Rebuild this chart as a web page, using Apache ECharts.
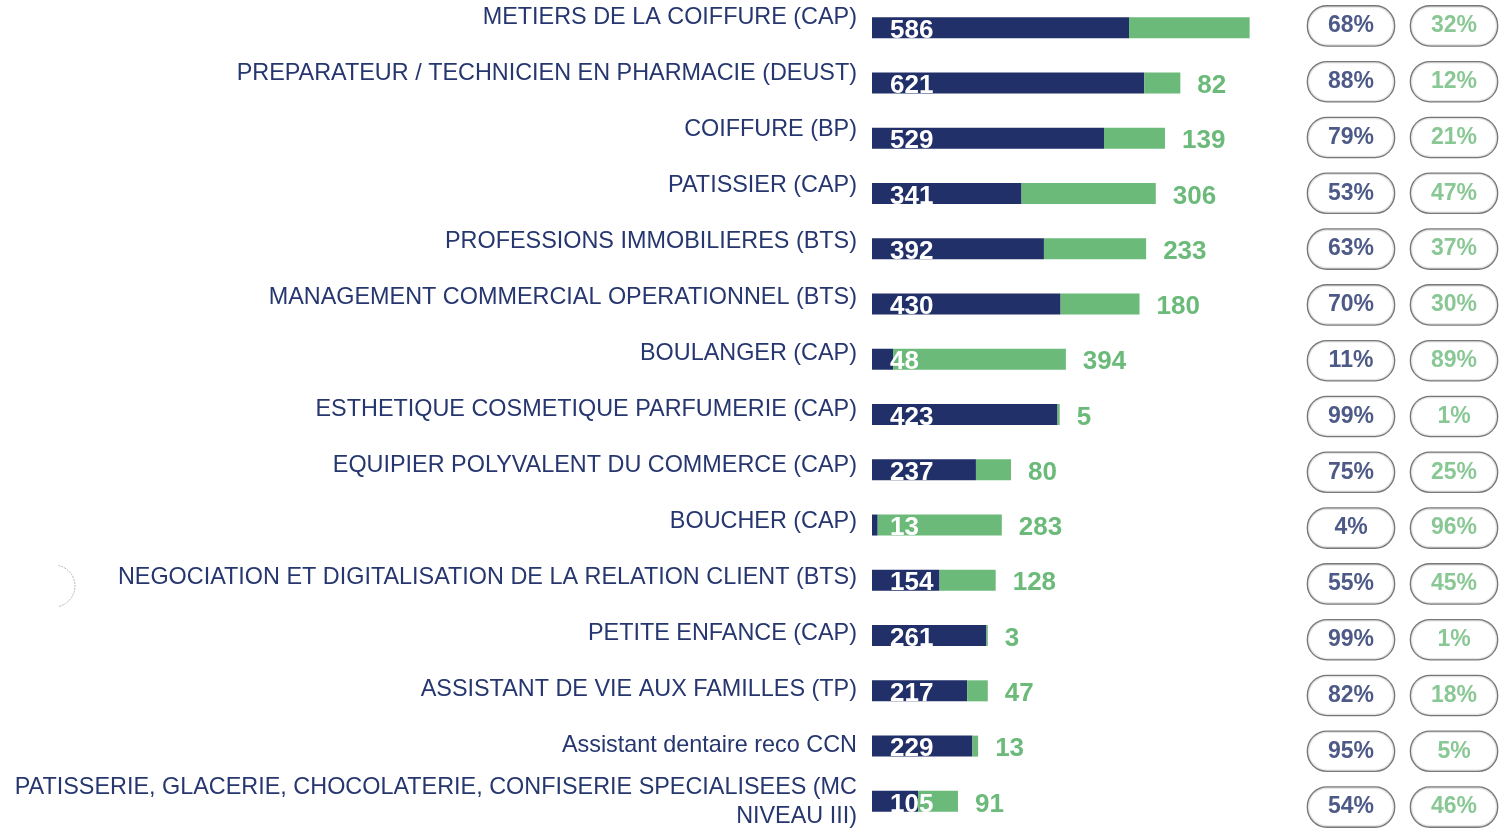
<!DOCTYPE html>
<html>
<head>
<meta charset="utf-8">
<script src="https://cdn.jsdelivr.net/npm/echarts@6/dist/echarts.min.js"></script>
<style>
  html, body { margin: 0; padding: 0; background: #fff; }
  #chart { width: 1501px; height: 830px; }
</style>
</head>
<body>
<div id="chart"></div>
<script>
// ------------------------------------------------------------
// Data
// ------------------------------------------------------------

const formations = [
  "METIERS DE LA COIFFURE (CAP)",
  "PREPARATEUR / TECHNICIEN EN PHARMACIE (DEUST)",
  "COIFFURE (BP)",
  "PATISSIER (CAP)",
  "PROFESSIONS IMMOBILIERES (BTS)",
  "MANAGEMENT COMMERCIAL OPERATIONNEL (BTS)",
  "BOULANGER (CAP)",
  "ESTHETIQUE COSMETIQUE PARFUMERIE (CAP)",
  "EQUIPIER POLYVALENT DU COMMERCE (CAP)",
  "BOUCHER (CAP)",
  "NEGOCIATION ET DIGITALISATION DE LA RELATION CLIENT (BTS)",
  "PETITE ENFANCE (CAP)",
  "ASSISTANT DE VIE AUX FAMILLES (TP)",
  "Assistant dentaire reco CCN",
  "PATISSERIE, GLACERIE, CHOCOLATERIE, CONFISERIE SPECIALISEES (MC\nNIVEAU III)",
];

const navyValues = [586, 621, 529, 341, 392, 430, 48, 423, 237, 13, 154, 261, 217, 229, 105];
const greenValues = [275, 82, 139, 306, 233, 180, 394, 5, 80, 283, 128, 3, 47, 13, 91];

const navyPct = [68, 88, 79, 53, 63, 70, 11, 99, 75, 4, 55, 99, 82, 95, 54];
const greenPct = [32, 12, 21, 47, 37, 30, 89, 1, 25, 96, 45, 1, 18, 5, 46];

// green value label not shown on these rows
const hiddenGreenLabels = [0];

// ------------------------------------------------------------
// Styles
// ------------------------------------------------------------

const NAVY = "#213068";
const GREEN = "#6bba7a";
const LABEL = "#26366f";
const FONT = "'Liberation Sans', Arial, sans-serif";

const pillStyle = {
  width: 86,
  borderRadius: 19,
  borderColor: "#555555",
  borderWidth: 1.3,
  backgroundColor: "#fff",
  fontFamily: FONT,
  fontWeight: "bold",
  fontSize: 23,
  align: "center",
};

const valueLabel = {
  show: true,
  offset: [0, 3],
  fontFamily: FONT,
  fontWeight: "bold",
  fontSize: 26,
};

// ------------------------------------------------------------
// Chart
// ------------------------------------------------------------

const chart = echarts.init(document.getElementById("chart"));

chart.setOption({
  animation: false,
  grid: [
    // bars
    { left: 872, top: 0, width: 438.6, height: 829, outerBoundsMode: "none" },
    // pills
    { left: 1300, top: -2, width: 204, height: 837, outerBoundsMode: "none" },
    // category labels (spaced a bit wider than the bars)
    { left: 872, top: -10, width: 10, height: 840, outerBoundsMode: "none" },
  ],
  xAxis: [
    { type: "value", gridIndex: 0, min: 0, max: 1000, show: false },
    { type: "value", gridIndex: 1, min: 0, max: 2, show: false },
    { type: "value", gridIndex: 2, min: 0, max: 1, show: false },
  ],
  yAxis: [
    { type: "category", gridIndex: 0, inverse: true, data: formations, show: false },
    { type: "category", gridIndex: 1, inverse: true, data: formations, show: false },
    {
      type: "category",
      gridIndex: 2,
      inverse: true,
      data: formations,
      axisLine: { show: false },
      axisTick: { show: false },
      axisLabel: {
        margin: 15,
        color: LABEL,
        fontSize: 23.4,
        lineHeight: 29,
        fontFamily: FONT,
      },
    },
  ],
  series: [
    {
      type: "bar",
      stack: "total",
      xAxisIndex: 0,
      yAxisIndex: 0,
      barWidth: 21,
      data: navyValues,
      itemStyle: { color: NAVY },
      label: {
        ...valueLabel,
        position: "insideLeft",
        distance: 18,
        color: "#fff",
      },
    },
    {
      type: "bar",
      stack: "total",
      xAxisIndex: 0,
      yAxisIndex: 0,
      barWidth: 21,
      data: greenValues.map((v, i) =>
        hiddenGreenLabels.includes(i) ? { value: v, label: { show: false } } : v
      ),
      itemStyle: { color: GREEN },
      label: {
        ...valueLabel,
        position: "right",
        distance: 17,
        color: GREEN,
      },
    },
    {
      type: "scatter",
      xAxisIndex: 1,
      yAxisIndex: 1,
      symbol: "rect",
      symbolSize: 1,
      itemStyle: { color: "rgba(0,0,0,0)" },
      data: navyPct.map((p, i) => [0.5, i, p]),
      label: {
        show: true,
        position: "inside",
        formatter: (p) => p.value[2] + "%",
        color: NAVY,
        height: 39,
        lineHeight: 39,
        ...pillStyle,
      },
    },
    {
      type: "scatter",
      xAxisIndex: 1,
      yAxisIndex: 1,
      symbol: "rect",
      symbolSize: 1,
      itemStyle: { color: "rgba(0,0,0,0)" },
      data: greenPct.map((p, i) => [1.51, i, p]),
      label: {
        show: true,
        position: "inside",
        formatter: (p) => p.value[2] + "%",
        color: GREEN,
        height: 33,
        lineHeight: 33,
        padding: [0, 0, 6, 0],
        ...pillStyle,
      },
    },
  ],
  graphic: [
    {
      type: "arc",
      shape: { cx: 54, cy: 586, r: 21, startAngle: -1.35, endAngle: 1.35 },
      style: { stroke: "#b5b5b5", lineWidth: 1, lineDash: [2, 1], fill: null },
    },
  ],
});
</script>
</body>
</html>
